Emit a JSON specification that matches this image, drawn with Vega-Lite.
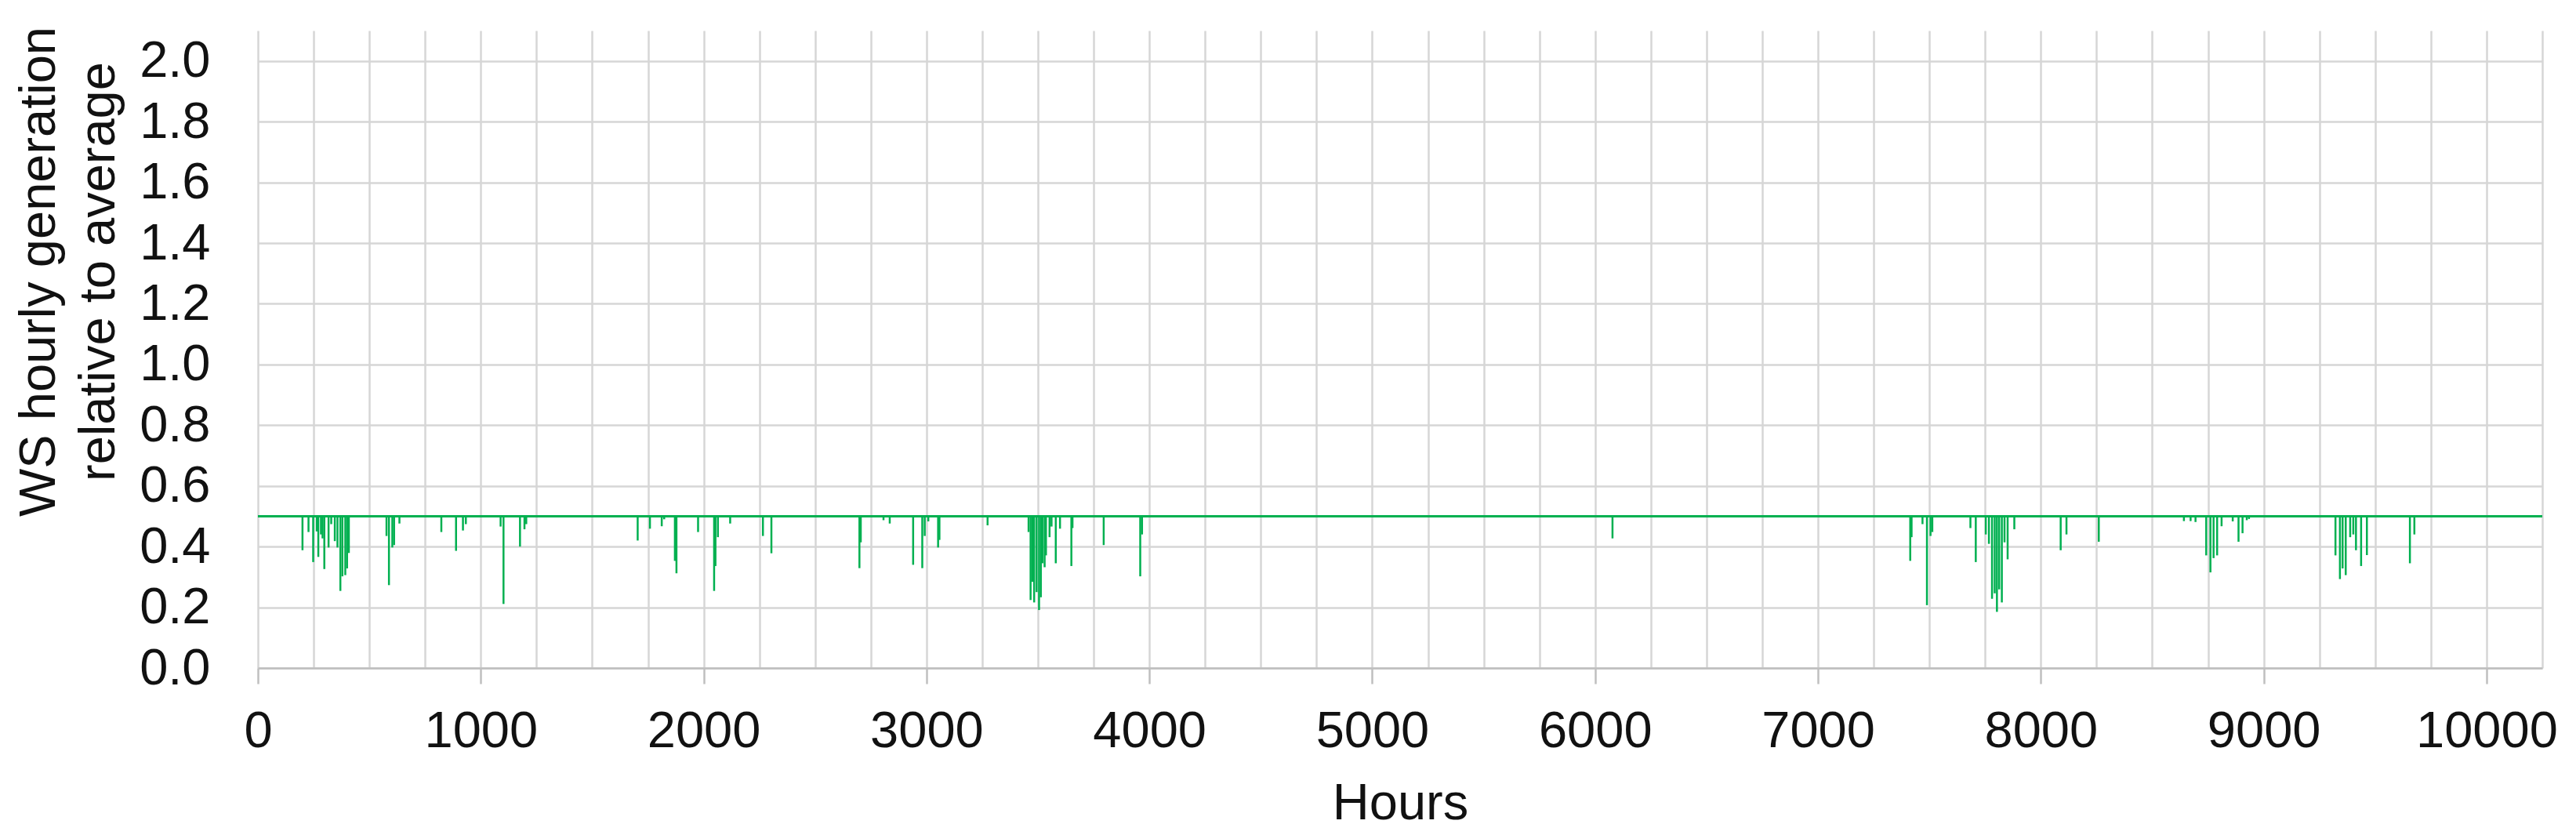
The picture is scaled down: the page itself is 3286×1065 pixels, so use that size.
{
  "$schema": "https://vega.github.io/schema/vega-lite/v6.json",
  "width": 2914,
  "height": 813,
  "autosize": "none",
  "padding": {"left": 329, "top": 39, "right": 43, "bottom": 213},
  "background": "white",
  "config": {
    "view": {"stroke": null},
    "font": "Liberation Sans",
    "axis": {
      "labelFont": "Liberation Sans",
      "titleFont": "Liberation Sans",
      "labelFontSize": 65,
      "titleFontSize": 65,
      "titleFontWeight": "normal",
      "labelColor": "#111111",
      "titleColor": "#111111",
      "gridColor": "#d6d6d6",
      "gridWidth": 2.5,
      "domainColor": "#bfbfbf",
      "domainWidth": 2.5,
      "tickColor": "#bfbfbf",
      "tickWidth": 2.5,
      "labelFlush": false,
      "labelOverlap": false,
      "labelLimit": 600
    }
  },
  "data": {
    "values": [
      {"h": 200, "v": 0.388}, {"h": 227, "v": 0.448}, {"h": 248, "v": 0.349}, {"h": 264, "v": 0.45},
      {"h": 271, "v": 0.366}, {"h": 283, "v": 0.44}, {"h": 290, "v": 0.427}, {"h": 298, "v": 0.326},
      {"h": 317, "v": 0.397}, {"h": 329, "v": 0.474}, {"h": 345, "v": 0.418}, {"h": 357, "v": 0.397},
      {"h": 370, "v": 0.254}, {"h": 379, "v": 0.302}, {"h": 392, "v": 0.306}, {"h": 400, "v": 0.328},
      {"h": 408, "v": 0.379}, {"h": 577, "v": 0.435}, {"h": 588, "v": 0.273}, {"h": 603, "v": 0.397},
      {"h": 611, "v": 0.405}, {"h": 635, "v": 0.476}, {"h": 823, "v": 0.448}, {"h": 889, "v": 0.386},
      {"h": 920, "v": 0.453}, {"h": 933, "v": 0.474}, {"h": 1089, "v": 0.466}, {"h": 1102, "v": 0.211},
      {"h": 1176, "v": 0.4}, {"h": 1196, "v": 0.457}, {"h": 1204, "v": 0.474}, {"h": 1704, "v": 0.42},
      {"h": 1759, "v": 0.459}, {"h": 1812, "v": 0.467}, {"h": 1823, "v": 0.49}, {"h": 1871, "v": 0.353},
      {"h": 1878, "v": 0.312}, {"h": 1975, "v": 0.448}, {"h": 2047, "v": 0.254}, {"h": 2053, "v": 0.336},
      {"h": 2064, "v": 0.431}, {"h": 2119, "v": 0.476}, {"h": 2266, "v": 0.435}, {"h": 2304, "v": 0.378},
      {"h": 2699, "v": 0.329}, {"h": 2705, "v": 0.414}, {"h": 2807, "v": 0.487}, {"h": 2835, "v": 0.476},
      {"h": 2940, "v": 0.34}, {"h": 2981, "v": 0.329}, {"h": 2992, "v": 0.435}, {"h": 3008, "v": 0.483},
      {"h": 3052, "v": 0.397}, {"h": 3058, "v": 0.422}, {"h": 3274, "v": 0.47}, {"h": 3458, "v": 0.448},
      {"h": 3467, "v": 0.224}, {"h": 3475, "v": 0.284}, {"h": 3483, "v": 0.216}, {"h": 3494, "v": 0.25},
      {"h": 3505, "v": 0.191}, {"h": 3513, "v": 0.233}, {"h": 3520, "v": 0.345}, {"h": 3530, "v": 0.332},
      {"h": 3536, "v": 0.371}, {"h": 3552, "v": 0.431}, {"h": 3561, "v": 0.466}, {"h": 3580, "v": 0.345},
      {"h": 3599, "v": 0.459}, {"h": 3650, "v": 0.336}, {"h": 3655, "v": 0.461}, {"h": 3795, "v": 0.405},
      {"h": 3959, "v": 0.302}, {"h": 3967, "v": 0.44}, {"h": 6078, "v": 0.427},
      {"h": 7414, "v": 0.353}, {"h": 7420, "v": 0.431}, {"h": 7469, "v": 0.474}, {"h": 7489, "v": 0.207},
      {"h": 7505, "v": 0.435}, {"h": 7513, "v": 0.448}, {"h": 7684, "v": 0.461}, {"h": 7708, "v": 0.349},
      {"h": 7753, "v": 0.44}, {"h": 7767, "v": 0.409}, {"h": 7781, "v": 0.228}, {"h": 7793, "v": 0.246},
      {"h": 7803, "v": 0.185}, {"h": 7813, "v": 0.259}, {"h": 7825, "v": 0.216}, {"h": 7837, "v": 0.414},
      {"h": 7851, "v": 0.358}, {"h": 7881, "v": 0.457}, {"h": 8089, "v": 0.388}, {"h": 8115, "v": 0.44},
      {"h": 8260, "v": 0.416}, {"h": 8642, "v": 0.484}, {"h": 8672, "v": 0.484}, {"h": 8694, "v": 0.481},
      {"h": 8742, "v": 0.371}, {"h": 8761, "v": 0.315}, {"h": 8775, "v": 0.362}, {"h": 8791, "v": 0.371},
      {"h": 8811, "v": 0.467}, {"h": 8861, "v": 0.483}, {"h": 8887, "v": 0.416}, {"h": 8905, "v": 0.444},
      {"h": 8924, "v": 0.487}, {"h": 8934, "v": 0.491}, {"h": 9322, "v": 0.371}, {"h": 9342, "v": 0.293},
      {"h": 9354, "v": 0.328}, {"h": 9368, "v": 0.306}, {"h": 9388, "v": 0.431}, {"h": 9402, "v": 0.44},
      {"h": 9414, "v": 0.388}, {"h": 9437, "v": 0.336}, {"h": 9463, "v": 0.372}, {"h": 9656, "v": 0.345},
      {"h": 9676, "v": 0.44}
    ]
  },
  "layer": [
    {
      "mark": {"type": "rule", "color": "#00b050", "strokeWidth": 2.5},
      "encoding": {
        "x": {
          "field": "h",
          "type": "quantitative",
          "scale": {"domain": [0, 10250], "nice": false},
          "axis": {
            "title": "Hours",
            "values": [0, 250, 500, 750, 1000, 1250, 1500, 1750, 2000, 2250, 2500, 2750, 3000, 3250, 3500, 3750, 4000, 4250, 4500, 4750, 5000, 5250, 5500, 5750, 6000, 6250, 6500, 6750, 7000, 7250, 7500, 7750, 8000, 8250, 8500, 8750, 9000, 9250, 9500, 9750, 10000, 10250],
            "labelExpr": "datum.value % 1000 === 0 ? format(datum.value, 'd') : ''",
            "tickSize": 20,
            "tickOpacity": {"condition": {"test": "datum.value % 1000 === 0", "value": 1}, "value": 0},
            "labelPadding": 29,
            "titlePadding": 28
          }
        },
        "y": {
          "field": "v",
          "type": "quantitative",
          "scale": {"domain": [0, 2.1], "nice": false},
          "axis": {
            "title": ["WS hourly generation", "relative to average"],
            "values": [0, 0.2, 0.4, 0.6, 0.8, 1.0, 1.2, 1.4, 1.6, 1.8, 2.0],
            "format": ".1f",
            "domain": false,
            "ticks": false,
            "tickSize": 0,
            "labelPadding": 61,
            "titleX": -246,
            "titleY": 307,
            "titleLineHeight": 76
          }
        },
        "y2": {"datum": 0.5}
      }
    },
    {
      "mark": {"type": "rule", "color": "#00b050", "strokeWidth": 2},
      "encoding": {"y": {"datum": 0.5}}
    }
  ]
}
